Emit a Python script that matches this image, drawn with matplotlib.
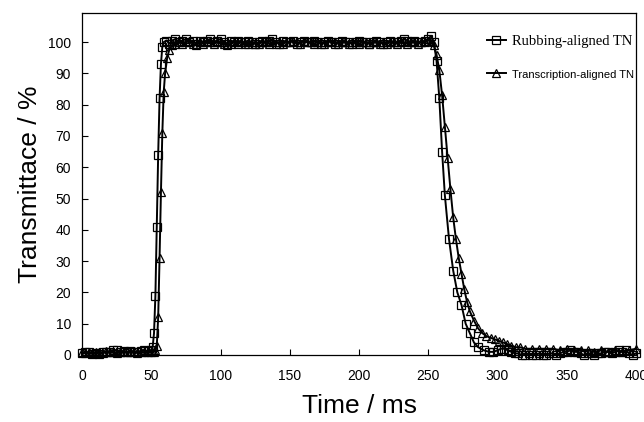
import matplotlib
matplotlib.use("Agg")
import matplotlib.pyplot as plt

# Rubbing-aligned TN (squares)
t_rub = [0, 2.5, 5, 7.5, 10, 12.5, 15, 17.5, 20, 22.5, 25, 27.5, 30, 32.5, 35, 37.5, 40, 42.5, 45, 47.5, 50,
         51, 52, 53, 54, 55, 56, 57, 58, 59, 61, 63, 65, 67.5, 70, 72.5, 75, 77.5, 80, 82.5, 85, 87.5, 90,
         92.5, 95, 97.5, 100, 102.5, 105, 107.5, 110, 112.5, 115, 117.5, 120, 122.5, 125, 127.5, 130, 132.5,
         135, 137.5, 140, 142.5, 145, 147.5, 150, 152.5, 155, 157.5, 160, 162.5, 165, 167.5, 170, 172.5, 175,
         177.5, 180, 182.5, 185, 187.5, 190, 192.5, 195, 197.5, 200, 202.5, 205, 207.5, 210, 212.5, 215, 217.5,
         220, 222.5, 225, 227.5, 230, 232.5, 235, 237.5, 240, 242.5, 245, 247.5, 250, 252, 254, 256, 258, 260,
         262, 265, 268, 271, 274, 277, 280, 283, 286, 290, 294, 297, 300, 302.5, 305, 307.5, 310, 312.5, 315,
         317.5, 320, 322.5, 325, 327.5, 330, 332.5, 335, 337.5, 340, 342.5, 345, 347.5, 350, 352.5, 355, 357.5,
         360, 362.5, 365, 367.5, 370, 372.5, 375, 377.5, 380, 382.5, 385, 387.5, 390, 392.5, 395, 397.5, 400]
v_rub = [0.5, 1.0, 0.8, 0.3, 0.6, 0.2, 0.9, 0.8, 1.1, 1.5, 1.6, 1.0, 1.2, 1.0, 1.3, 0.9, 0.8, 1.4, 1.6, 1.2, 1.5,
         2.5, 7, 19, 41, 64, 82, 93, 98.5, 100, 100.5, 99.5, 100.5, 101, 100, 100.5, 101, 100, 100.5, 99.5, 100.5,
         100, 100.5, 101, 100, 100.5, 101, 100, 99.5, 100.5, 100, 100.5, 100, 100, 100.5, 100, 99.5, 100, 100.5,
         100, 100.5, 101, 100, 99.5, 100.5, 100, 100, 100.5, 99.5, 100, 100.5, 100, 100, 100.5, 100, 99.5, 100,
         100.5, 100, 99.5, 100, 100.5, 100, 100, 99.5, 100, 100.5, 100, 100, 99.5, 100, 100.5, 100, 99.5,
         100, 100.5, 100, 100, 100.5, 101, 100.5, 100, 100.5, 100, 100, 100.5, 101, 102, 100, 94, 82, 65,
         51, 37, 27, 20, 16, 10, 7, 4, 2.5, 1.5, 1, 1, 1.5, 2, 2, 1.5, 1, 0.5, 0.5,
         0, 0, 0.5, 0, 0, 0.5, 0, 0, 0.5, 0.5, 0, 0.5, 1, 1, 1.5, 1, 1,
         0.5, 0, 0.5, 0.5, 0, 0.5, 0.5, 1, 1, 0.5, 1, 1.5, 1, 1.5, 0.5, 0, 0.5]

# Transcription-aligned TN (triangles)
t_tra = [0, 2.5, 5, 7.5, 10, 12.5, 15, 17.5, 20, 22.5, 25, 27.5, 30, 32.5, 35, 37.5, 40, 42.5, 45, 47.5, 50,
         52, 53, 54, 55, 56, 57, 58, 59, 60, 61.5, 63, 65, 67.5, 70, 72.5, 75, 77.5, 80, 82.5, 85, 87.5, 90,
         92.5, 95, 97.5, 100, 102.5, 105, 107.5, 110, 112.5, 115, 117.5, 120, 122.5, 125, 127.5, 130, 132.5,
         135, 137.5, 140, 142.5, 145, 147.5, 150, 152.5, 155, 157.5, 160, 162.5, 165, 167.5, 170, 172.5, 175,
         177.5, 180, 182.5, 185, 187.5, 190, 192.5, 195, 197.5, 200, 202.5, 205, 207.5, 210, 212.5, 215, 217.5,
         220, 222.5, 225, 227.5, 230, 232.5, 235, 237.5, 240, 242.5, 245, 247.5, 250, 252, 254, 256, 258, 260,
         262, 264, 266, 268, 270, 272, 274, 276, 278, 280, 283, 286, 289, 292, 295, 298, 301, 304, 307, 310,
         313, 316, 320, 325, 330, 335, 340, 345, 350, 355, 360, 365, 370, 375, 380, 385, 390, 395, 400]
v_tra = [1.0, 0.5, 1.0, 0.5, 0.8, 1.0, 0.5, 1.2, 0.8, 1.0, 0.5, 1.0, 1.2, 0.8, 1.0, 1.2, 0.6, 1.0, 0.8, 1.0, 0.8,
         1, 1.5, 3, 12, 31, 52, 71, 84, 90, 95, 97.5, 99, 99.5, 100, 99.5, 100, 100.5, 99.5, 99, 100, 99.5, 100,
         100, 99.5, 100, 100, 99.5, 99, 99.5, 100, 99.5, 100, 99.5, 99.5, 100, 99.5, 99.5, 100, 100,
         99.5, 100, 99.5, 100, 99.5, 100, 100, 100.5, 100, 99.5, 100.5, 100, 100, 99.5, 100, 100, 99.5,
         100, 100.5, 100, 99.5, 100, 100, 99.5, 100, 100, 99.5, 100, 100, 99.5, 100, 100, 99.5, 100,
         99.5, 100, 100, 99.5, 100, 100, 99.5, 100, 100, 99.5, 100, 100, 100.5, 100.5, 99, 96, 91, 83,
         73, 63, 53, 44, 37, 31, 26, 21, 17, 14, 11, 8.5, 7, 6, 5.5, 5, 4.5, 4, 3.5, 3,
         2.5, 2.5, 2, 2, 2, 2, 2, 1.5, 2, 1.5, 1.5, 1.5, 1, 1.5, 1, 1.5, 1, 1.5, 2]

x_ticks = [0, 50, 100, 150, 200, 250, 300, 350, 400]
y_ticks = [0, 10, 20, 30, 40, 50, 60, 70, 80, 90, 100]

sans = ['Liberation Sans', 'DejaVu Sans']

fig = plt.figure(figsize=(6.44, 4.22), dpi=100)
ax = fig.add_axes([82/644, 1-355/422, (636-82)/644, (355-13)/422])

ax.plot(t_rub, v_rub, color='black', lw=1.4, marker='s', ms=6, mfc='none', mec='black', mew=0.9,
        label='Rubbing-aligned TN', clip_on=False, zorder=3)
ax.plot(t_tra, v_tra, color='black', lw=1.4, marker='^', ms=5.5, mfc='none', mec='black', mew=0.9,
        label='Transcription-aligned TN', clip_on=False, zorder=3)

ax.set_xlim(0, 400)
ax.set_ylim(0, 109.3)
ax.set_xticks(x_ticks)
ax.set_yticks(y_ticks)
ax.set_xticklabels([str(v) for v in x_ticks], family=sans, fontsize=10)
ax.set_yticklabels([str(v) for v in y_ticks], family=sans, fontsize=10)
ax.tick_params(direction='in', length=4, width=0.8, pad=8)
ax.tick_params(axis='x', pad=10)
for s in ax.spines.values():
    s.set_linewidth(0.9)

ax.set_xlabel('Time / ms', fontsize=19, family=sans, labelpad=8)
ax.set_ylabel('Transmittace / %', fontsize=19, family=sans, labelpad=4)

leg = ax.legend(loc='upper left', bbox_to_anchor=(0.718, 0.955), frameon=False, handlelength=1.4,
                handletextpad=0.4, labelspacing=1.4, borderpad=0)
texts = leg.get_texts()
texts[0].set_fontfamily(['Liberation Serif', 'DejaVu Serif'])
texts[0].set_fontsize(10.5)
texts[1].set_fontfamily(sans)
texts[1].set_fontsize(8)

fig.savefig('out.png', dpi=100)
